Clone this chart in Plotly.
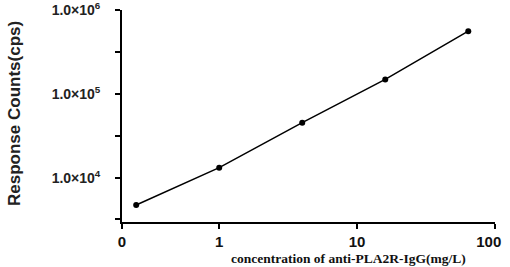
import plotly.graph_objects as go

concentration = [0.25, 1, 4, 16, 64]
response = [4710, 13150, 45300, 149000, 561000]

x_tickvals = [10 ** -0.705, 1, 10, 100]
x_ticktext = ["<b>0</b>", "<b>1</b>", "<b>10</b>", "<b>100</b>&nbsp;&nbsp;&nbsp;"]
y_tickvals = [10 ** 3.5, 1e4, 10 ** 4.5, 1e5, 10 ** 5.5, 1e6]
y_ticktext = [" ", "<b>1.0×10<sup>4</sup></b>", " ", "<b>1.0×10<sup>5</sup></b>", " ",
              "<b>1.0×10<sup>6</sup></b>"]

W, H = 510, 267
L, T = 122, 10
R = W - 495
B = H - 222
PW, PH = W - L - R, H - T - B


def px_to_paper(px, py):
    return (px - L) / PW, (H - py - B) / PH


fig = go.Figure()
fig.add_trace(go.Scatter(
    x=concentration, y=response, mode="lines+markers",
    line=dict(color="black", width=1.5),
    marker=dict(color="black", size=6),
    showlegend=False,
))

xt_x, xt_y = px_to_paper(348, 258)
yt_x, yt_y = px_to_paper(15, 113)

fig.update_layout(
    width=W, height=H,
    margin=dict(l=L, r=R, t=T, b=B, autoexpand=False),
    paper_bgcolor="white", plot_bgcolor="white",
    font=dict(family="Liberation Sans, Arial", color="#222"),
    xaxis=dict(
        type="log", range=[-0.705, 2.0], automargin=False,
        tickvals=x_tickvals, ticktext=x_ticktext,
        ticks="outside", ticklen=5, tickwidth=1.5, tickcolor="black",
        showline=True, linecolor="black", linewidth=1.8,
        showgrid=False, zeroline=False, ticklabeloverflow="allow",
        tickfont=dict(size=15, family="Liberation Sans, Arial", color="#111"),
    ),
    yaxis=dict(
        type="log", range=[3.47, 6.002], automargin=False,
        tickvals=y_tickvals, ticktext=y_ticktext,
        ticks="outside", ticklen=5, tickwidth=1.5, tickcolor="black",
        showline=True, linecolor="black", linewidth=1.8,
        showgrid=False, zeroline=False, ticklabeloverflow="allow",
        ticklabelstandoff=12,
        tickfont=dict(size=14, color="#222"),
    ),
    annotations=[
        dict(text="<b>concentration of anti-PLA2R-IgG(mg/L)</b>",
             x=xt_x, y=xt_y, xref="paper", yref="paper", showarrow=False,
             xanchor="center", yanchor="middle",
             font=dict(family="Liberation Serif, Times New Roman", size=13.5, color="#111")),
        dict(text="<b>Response Counts(cps)</b>", textangle=-90,
             x=yt_x, y=yt_y, xref="paper", yref="paper", showarrow=False,
             xanchor="center", yanchor="middle",
             font=dict(family="Liberation Sans, Arial", size=17, color="#222")),
    ],
)

fig.write_html("out.html", config={"displayModeBar": False},
               post_script="document.body.style.margin='0';")
